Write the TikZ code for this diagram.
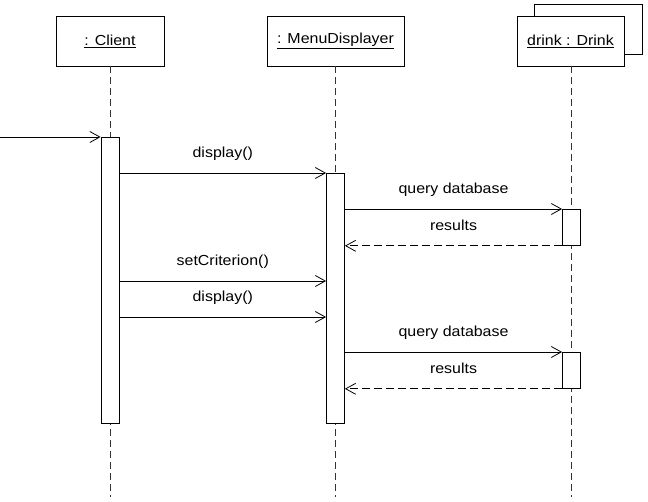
\documentclass[tikz,border=0pt]{standalone}
\usepackage{fontspec}
\setmainfont{Liberation Sans}[FakeStretch=1.1]
\usetikzlibrary{arrows.meta}
\begin{document}
\begin{tikzpicture}[x=1pt,y=-1pt,line width=0.8pt,
  txt/.style={font=\fontsize{14.5}{17}\selectfont},
  obj/.style={draw,fill=white,minimum height=50pt,inner sep=0pt,txt},
  act/.style={draw,fill=white,minimum width=18pt,inner sep=0pt,anchor=north},
  life/.style={dash pattern=on 7pt off 4pt,draw=black!80},
  msg/.style={-{Straight Barb[length=10pt,width=11pt]}},
  ret/.style={msg,dash pattern=on 8pt off 4pt},
  lbl/.style={txt,anchor=base,inner sep=0pt,yshift=15pt}]
\useasboundingbox (0,0) rectangle (648,502);
% objects
\node[obj,minimum width=108pt] (client) at (110,41) {\underline{: Client}};
\node[obj,minimum width=137pt] (menu) at (335.5,41) {\underline{: MenuDisplayer}};
\node[draw,fill=white,minimum width=108pt,minimum height=50pt,inner sep=0pt] (drinkback) at (588,29) {};
\node[obj,minimum width=107pt] (drink) at (570.5,41) {\underline{drink : Drink}};
% lifeline ends
\coordinate (clientend) at (110,497);
\coordinate (menuend) at (335.5,497);
\coordinate (drinkend) at (571.5,497);
\draw[life] (client.south) -- (clientend);
\draw[life] (menu.south) -- (menuend);
\draw[life] (571.5,66) -- (drinkend);
% activations
\node[act,minimum height=286pt] (ac) at (110,137) {};
\node[act,minimum height=250pt] (am) at (335.5,173) {};
\node[act,minimum height=36pt] (ad1) at (571.5,209) {};
\node[act,minimum height=36pt] (ad2) at (571.5,352) {};
% incoming
\coordinate (start) at (0,137);
\draw[msg] (start) -- (ac.north west);
% messages
\draw[msg] (ac.east |- am.north) -- (am.north west) node[lbl,midway] (l1) {display()};
\draw[msg] (am.east |- ad1.north) -- (ad1.north west) node[lbl,midway] (l2) {query database};
\draw[ret] (ad1.south west) -- (am.east |- ad1.south) node[lbl,midway] (l3) {results};
\coordinate (m4) at (0,281);
\coordinate (m5) at (0,317);
\draw[msg] (ac.east |- m4) -- (am.west |- m4) node[lbl,midway] (l4) {setCriterion()};
\draw[msg] (ac.east |- m5) -- (am.west |- m5) node[lbl,midway] (l5) {display()};
\draw[msg] (am.east |- ad2.north) -- (ad2.north west) node[lbl,midway] (l6) {query database};
\draw[ret] (ad2.south west) -- (am.east |- ad2.south) node[lbl,midway] (l7) {results};
\end{tikzpicture}
\end{document}
